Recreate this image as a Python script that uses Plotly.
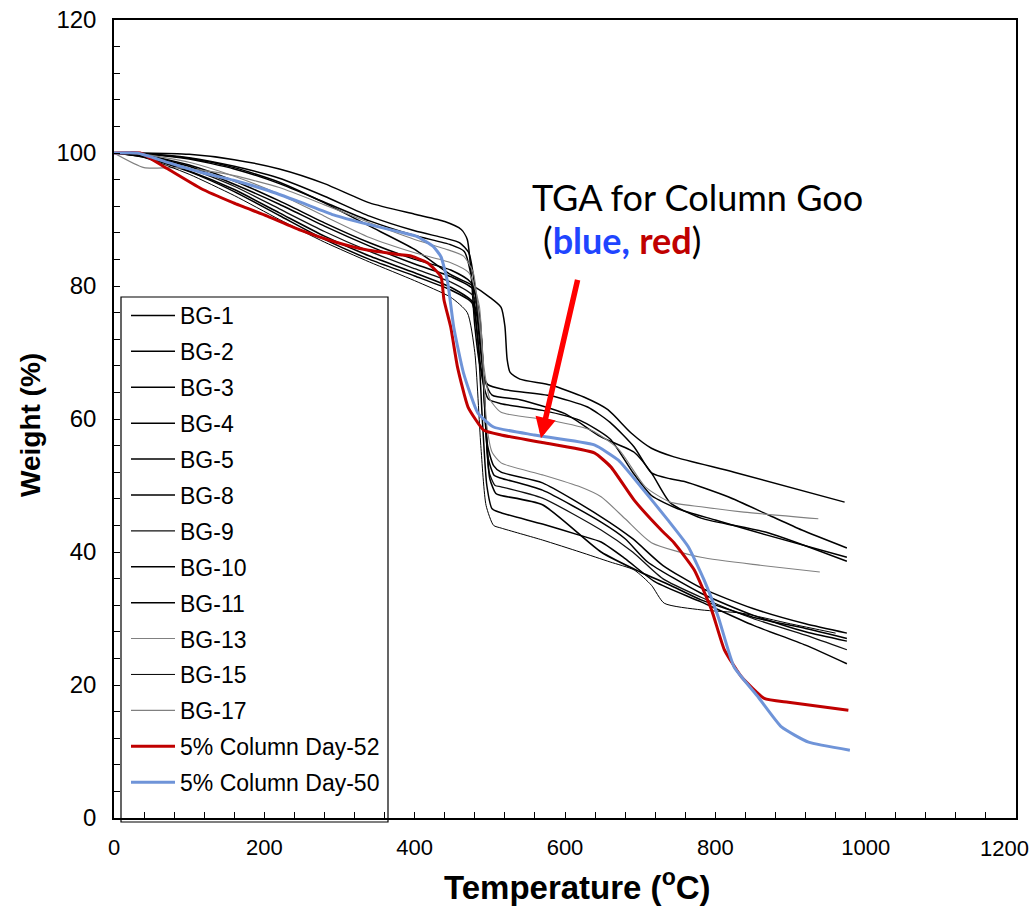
import plotly.graph_objects as go

# --- TGA weight-loss curves: (temperature degC, weight %) ---
bg1_t = [0, 40, 100, 160, 220, 280, 340, 400, 440, 462, 470, 475, 480, 487, 497, 520, 581, 630, 660, 692, 715, 740, 759, 817, 870, 915, 975]
bg1_w = [100, 100, 99.8, 99.0, 97.6, 95.4, 92.5, 90.8, 89.7, 88.5, 87, 82, 74, 68, 65.2, 64.4, 63.5, 61.8, 59.5, 55.8, 51.9, 51.0, 50.6, 48.3, 45.6, 43.3, 40.6]

bg2_t = [0, 40, 100, 160, 220, 280, 340, 400, 448, 475, 500, 515, 520, 523, 527, 540, 581, 625, 657, 688, 715, 745, 825, 972]
bg2_w = [100, 99.9, 99.2, 97.8, 95.6, 92.5, 89, 85.5, 81.7, 80.2, 78.3, 76.8, 74, 69, 67, 66, 65.1, 63.3, 61.4, 57.9, 55.6, 54.3, 52, 47.5]

bg3_t = [0, 40, 100, 160, 220, 280, 340, 400, 440, 460, 472, 480, 486, 493, 503, 540, 600, 648, 692, 715, 740, 781, 870, 975]
bg3_w = [100, 99.9, 99.3, 98, 96.2, 93.5, 90.5, 88.3, 87.2, 86.5, 85, 80, 72, 66, 63.6, 62.9, 60.8, 57.3, 55, 51.9, 47.4, 45.1, 42.9, 38.6]

bg4_t = [0, 40, 100, 160, 220, 280, 340, 400, 448, 475, 487, 492, 497, 505, 515, 570, 648, 690, 730, 781, 850, 920, 975]
bg4_w = [100, 99.7, 98.2, 95.8, 92.8, 89.5, 86.5, 84, 82.4, 80.5, 75, 65, 56, 53, 52, 50.4, 45.3, 42, 38, 34.6, 31.5, 29.2, 27.8]

bg5_t = [0, 40, 100, 160, 220, 280, 340, 400, 448, 466, 476, 483, 490, 498, 515, 570, 620, 660, 690, 715, 750, 800, 870, 975]
bg5_w = [100, 99.8, 99.1, 97.6, 95.4, 92.6, 89.8, 87.6, 86.2, 85.2, 81, 73, 66, 63, 62.3, 61.3, 59.8, 57, 52, 48.5, 46.5, 44.8, 42.5, 39.2]

bg8_t = [0, 40, 100, 160, 220, 280, 340, 400, 448, 478, 488, 493, 498, 506, 515, 570, 648, 680, 710, 781, 850, 920, 975]
bg8_w = [100, 99.6, 98, 95.3, 92.3, 89, 86, 83.3, 81.4, 79.5, 73, 62, 54, 51.5, 51.1, 49.3, 44.5, 42, 38.5, 33.8, 30.5, 28, 26.6]

bg9_t = [0, 40, 100, 160, 220, 280, 340, 400, 448, 478, 489, 494, 499, 507, 515, 570, 648, 690, 730, 781, 850, 920, 975]
bg9_w = [100, 99.5, 97.7, 95, 91.6, 88.2, 85.2, 82.6, 80.6, 78.5, 72, 60, 52, 50, 49.8, 48.1, 43.3, 40, 36, 33.2, 30, 27.5, 25.3]

bg10_t = [0, 40, 100, 160, 220, 280, 340, 400, 448, 478, 489, 495, 500, 508, 515, 570, 648, 700, 740, 781, 850, 920, 975]
bg10_w = [100, 99.5, 97.3, 94.5, 91, 87.5, 84.5, 82, 79.8, 77.5, 70, 58, 51, 48.8, 48.5, 47.1, 40, 37, 35, 32.8, 30.2, 28.5, 27]

bg11_t = [0, 40, 100, 160, 220, 280, 340, 400, 448, 476, 484, 490, 496, 503, 515, 570, 620, 648, 680, 720, 781, 850, 920, 975]
bg11_w = [100, 99.4, 97.2, 94.2, 90.6, 87, 84, 81.5, 79.4, 77.5, 72, 60, 50, 46.5, 45.9, 44.2, 42.5, 41.5, 39, 35.5, 32.5, 29, 26, 23.2]

bg13_t = [0, 40, 80, 130, 160, 220, 280, 340, 400, 440, 465, 478, 485, 492, 500, 515, 581, 635, 671, 707, 740, 781, 838, 937]
bg13_w = [100, 97.8, 97.8, 97.2, 96.6, 94.8, 92.2, 89.5, 87, 85.6, 84.5, 82, 76, 68, 63, 61, 59.8, 58.3, 55.5, 49.8, 47.5, 46.8, 46, 45]

bg15_t = [0, 40, 100, 160, 220, 280, 340, 400, 448, 470, 480, 488, 495, 505, 515, 570, 620, 660, 692, 715, 732, 781, 835, 900, 960]
bg15_w = [100, 99.3, 96.8, 93.6, 90, 86.6, 83.6, 80.8, 78.3, 76, 70, 56, 47, 44, 43.6, 41.8, 40, 38.5, 37.3, 35, 32.3, 31.3, 30.8, 29.2, 27.8]

bg17_t = [0, 40, 100, 160, 220, 280, 340, 400, 448, 472, 486, 491, 496, 503, 515, 570, 620, 648, 680, 715, 781, 860, 939]
bg17_w = [100, 99.8, 98.6, 96.5, 93.8, 90.5, 87.3, 85, 83.5, 82, 77, 68, 59, 55, 53.4, 51.6, 49.8, 48.3, 45, 41.4, 39.2, 38, 37]

day52_t = [0, 35, 70, 115, 159, 204, 248, 292, 337, 381, 395, 417, 435, 439, 448, 457, 471, 492, 515, 568, 639, 661, 692, 728, 745, 772, 795, 812, 835, 865, 897, 977]
day52_w = [100, 100, 97.7, 94.7, 92.5, 90.5, 88.4, 86.7, 85.4, 84.7, 84.5, 83.5, 81.4, 77.9, 73.8, 67.8, 61.8, 58.3, 57.6, 56.5, 54.9, 52.8, 47.8, 43.3, 41.4, 37.3, 31.3, 25.3, 21.2, 18.0, 17.4, 16.2]

day50_t = [0, 31, 71, 115, 159, 204, 248, 292, 337, 381, 404, 425, 435, 444, 452, 465, 484, 505, 559, 639, 671, 701, 737, 764, 785, 804, 825, 857, 888, 924, 979]
day50_w = [100, 100, 98.6, 97.1, 95.9, 94.4, 92.6, 90.7, 89.3, 88.1, 87.4, 85.9, 84.4, 80.5, 73.8, 66.9, 60.9, 58.8, 57.6, 56.1, 53.8, 49.8, 44.8, 40.8, 35.8, 30.2, 22.7, 18.2, 13.7, 11.4, 10.2]

# axis tick values and labels
x_ticks = [0, 200, 400, 600, 800, 1000, 1200]
x_tick_labels = ["0", "200", "400", "600", "800", "1000", "1200"]
y_ticks = [0, 20, 40, 60, 80, 100, 120]
y_tick_labels = ["0", "20", "40", "60", "80", "100", "120"]

samples = [
    ("BG-1", bg1_t, bg1_w, "#000000", 1.5),
    ("BG-2", bg2_t, bg2_w, "#000000", 1.5),
    ("BG-3", bg3_t, bg3_w, "#000000", 1.5),
    ("BG-4", bg4_t, bg4_w, "#000000", 1.5),
    ("BG-5", bg5_t, bg5_w, "#000000", 1.5),
    ("BG-8", bg8_t, bg8_w, "#000000", 1.5),
    ("BG-9", bg9_t, bg9_w, "#111111", 1.3),
    ("BG-10", bg10_t, bg10_w, "#000000", 1.6),
    ("BG-11", bg11_t, bg11_w, "#000000", 1.5),
    ("BG-13", bg13_t, bg13_w, "#808080", 1.1),
    ("BG-15", bg15_t, bg15_w, "#000000", 1.0),
    ("BG-17", bg17_t, bg17_w, "#808080", 1.1),
    ("5% Column Day-52", day52_t, day52_w, "#c00000", 3.0),
    ("5% Column Day-50", day50_t, day50_w, "#6f94d8", 3.0),
]

FONT = "Arial, Liberation Sans, sans-serif"
CALLOUT_FONT = "Lato, Open Sans, sans-serif"

fig = go.Figure()
for name, t, w, color, width in samples:
    smooth = 0.45 if width > 2 else 0.6
    fig.add_trace(go.Scatter(
        x=t, y=w, name=name, mode="lines", legendgroup=name,
        line=dict(color=color, width=width, shape="spline", smoothing=smooth),
    ))

axis_common = dict(
    showgrid=False, zeroline=False, showline=True, linecolor="black", linewidth=1.5,
    mirror=True, ticks="inside", ticklen=6, tickwidth=1.2, tickcolor="black",
    automargin=False, tickmode="array",
)

# the last x label sits against the page edge, so it is placed separately
fig.update_xaxes(
    range=[0, 1200], tickvals=x_ticks[:-1], ticktext=x_tick_labels[:-1],
    minor=dict(dtick=40, tick0=0, ticks="inside", ticklen=6, tickwidth=1, tickcolor="black"),
    tickfont=dict(family=FONT, size=22, color="black"),
    ticklabelstandoff=9,
    **axis_common,
)
fig.update_yaxes(
    range=[0, 120], tickvals=y_ticks, ticktext=y_tick_labels,
    minor=dict(dtick=4, tick0=0, ticks="inside", ticklen=6, tickwidth=1, tickcolor="black"),
    tickfont=dict(family=FONT, size=24, color="black"),
    ticklabelstandoff=11,
    **axis_common,
)

# pixel helpers for the plot frame
W_PX, H_PX = 1032, 906
plot_l, plot_r, plot_t, plot_b = 114, 1016, 20, 818
def px_to_paper(px, py):
    return (px - plot_l) / (plot_r - plot_l), (plot_b - py) / (plot_b - plot_t)

lx_1200, ly_1200 = px_to_paper(1031, 848)
fig.add_annotation(
    x=lx_1200, y=ly_1200, xref="paper", yref="paper", showarrow=False,
    text=x_tick_labels[-1], xanchor="right", yanchor="middle",
    font=dict(family=FONT, size=22, color="black"),
)

# axis titles
xt_x, xt_y = px_to_paper(577, 885)
fig.add_annotation(
    x=xt_x, y=xt_y, xref="paper", yref="paper", showarrow=False,
    text="<b>Temperature (<sup>o</sup>C)</b>", xanchor="center", yanchor="middle",
    font=dict(family=FONT, size=33, color="black"),
)
yt_x, yt_y = px_to_paper(30, 425)
fig.add_annotation(
    x=yt_x, y=yt_y, xref="paper", yref="paper", showarrow=False, textangle=-90,
    text="<b>Weight (%)</b>", xanchor="center", yanchor="middle",
    font=dict(family=FONT, size=28, color="black"),
)

# red arrow pointing at the column-goo curves
fig.add_annotation(
    x=568, y=57.1, xref="x", yref="y", ax=37, ay=-160, axref="pixel", ayref="pixel",
    showarrow=True, arrowhead=2, arrowsize=0.75, arrowwidth=5.5, arrowcolor="#ff0000", text="",
)
tx0, ty0 = px_to_paper(530, 197)
tx1, ty1 = px_to_paper(541, 240)
fig.add_annotation(
    x=tx0, y=ty0, xref="paper", yref="paper", text="TGA for Column Goo",
    showarrow=False, xanchor="left", yanchor="middle",
    font=dict(family=CALLOUT_FONT, size=36, color="black"),
)
fig.add_annotation(
    x=tx1, y=ty1, xref="paper", yref="paper",
    text="(<b><span style='color:#1f45ff'>blue,</span></b> <b><span style='color:#c00000'>red</span></b>)",
    showarrow=False, xanchor="left", yanchor="middle",
    font=dict(family=CALLOUT_FONT, size=36, color="black"),
)

# legend frame drawn as a rectangle so it can extend past the axis
bx0, by0 = px_to_paper(121, 297)
bx1, by1 = px_to_paper(388, 822)
fig.add_shape(
    type="rect", xref="paper", yref="paper", x0=bx0, y0=by1, x1=bx1, y1=by0,
    line=dict(color="black", width=1.2), fillcolor="rgba(0,0,0,0)", layer="above",
)

lx, ly = px_to_paper(126, 294)
fig.update_layout(
    width=W_PX, height=H_PX,
    margin=dict(l=plot_l, r=W_PX - plot_r, t=plot_t, b=H_PX - plot_b, autoexpand=False),
    paper_bgcolor="white", plot_bgcolor="white",
    legend=dict(
        x=lx, y=ly, xanchor="left", yanchor="top",
        bgcolor="rgba(0,0,0,0)", borderwidth=0,
        font=dict(family=FONT, size=23, color="black"),
        tracegroupgap=3, itemwidth=44,
    ),
    showlegend=True,
)

fig.write_html("out.html")
